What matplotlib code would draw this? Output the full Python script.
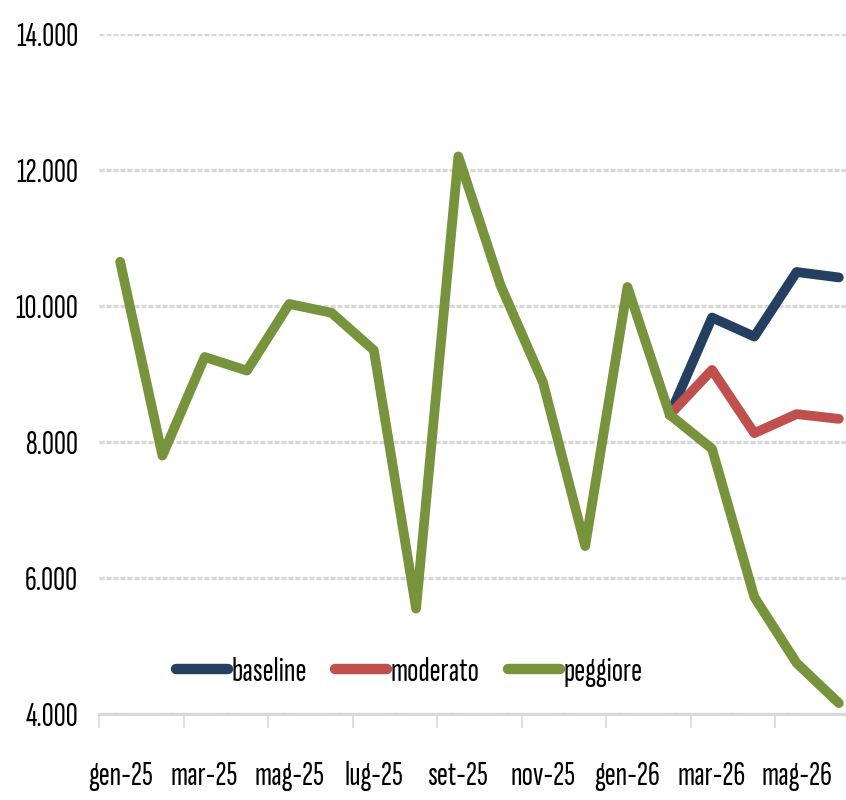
import matplotlib.pyplot as plt
import numpy as np

# mesi (gen-25 ... giu-26)
mesi = ["gen-25", "feb-25", "mar-25", "apr-25", "mag-25", "giu-25",
        "lug-25", "ago-25", "set-25", "ott-25", "nov-25", "dic-25",
        "gen-26", "feb-26", "mar-26", "apr-26", "mag-26", "giu-26"]

# storico comune fino a feb-26
storico = [10650, 7800, 9250, 9050, 10030, 9900, 9350, 5550, 12200,
           10300, 8880, 6470, 10280, 8400]

# scenari da mar-26
baseline = [9830, 9550, 10500, 10420]
moderato = [9060, 8130, 8410, 8340]
peggiore = [7900, 5720, 4750, 4160]

colori = {"baseline": "#243F60", "moderato": "#C0504D", "peggiore": "#77933C"}

plt.rcParams['font.family'] = ['Sofia Sans Extra Condensed', 'Roboto Condensed', 'DejaVu Sans']
plt.rcParams['font.size'] = 24

x = np.arange(len(mesi))
n_st = len(storico)

fig = plt.figure(figsize=(8.46, 8.0), dpi=100)
ax = fig.add_axes([99 / 846, 86 / 800, 761 / 846, 680 / 800])

stile = dict(lw=7, solid_capstyle='round', solid_joinstyle='round')

# baseline e moderato partono dall'ultimo punto storico
ax.plot(x[n_st - 1:], [storico[-1]] + baseline, color=colori["baseline"],
        label="baseline", **stile)
ax.plot(x[n_st - 1:], [storico[-1]] + moderato, color=colori["moderato"],
        label="moderato", **stile)
ax.plot(x, storico + peggiore, color=colori["peggiore"],
        label="peggiore", **stile)

ax.set_xlim(-0.5, len(mesi) - 0.5)
ax.set_ylim(4000, 14000)

# asse y
ax.set_yticks(np.arange(4000, 14001, 2000))
ax.set_yticklabels([f"{v:,}".replace(",", ".") for v in range(4000, 14001, 2000)])
ax.tick_params(axis='y', length=0, pad=15)
ax.yaxis.grid(True, color='#D9D9D9', lw=2.4, linestyle=(0, (1.5, 0.6)))
ax.set_axisbelow(True)

# asse x: etichette ogni 2 mesi, tacche ai bordi
ax.set_xticks(x[::2] - 0.5)
ax.set_xticklabels([])
ax.set_xticks(x[::2], minor=True)
ax.set_xticklabels(mesi[::2], minor=True)
ax.tick_params(axis='x', which='major', length=10, width=1.2,
               color='#D9D9D9', direction='out')
ax.tick_params(axis='x', which='minor', length=0, pad=34)

for s in ['top', 'right', 'left']:
    ax.spines[s].set_visible(False)
ax.spines['bottom'].set_color('#D9D9D9')
ax.spines['bottom'].set_linewidth(2.2)

leg = ax.legend(loc='center', bbox_to_anchor=(0.408, 0.062), ncol=3,
                frameon=False, handlelength=1.55, handletextpad=0.12,
                columnspacing=0.85, borderaxespad=0)
for h in leg.get_lines():
    h.set_linewidth(7.5)
    h.set_solid_capstyle('round')

fig.savefig("out.png", dpi=100)
